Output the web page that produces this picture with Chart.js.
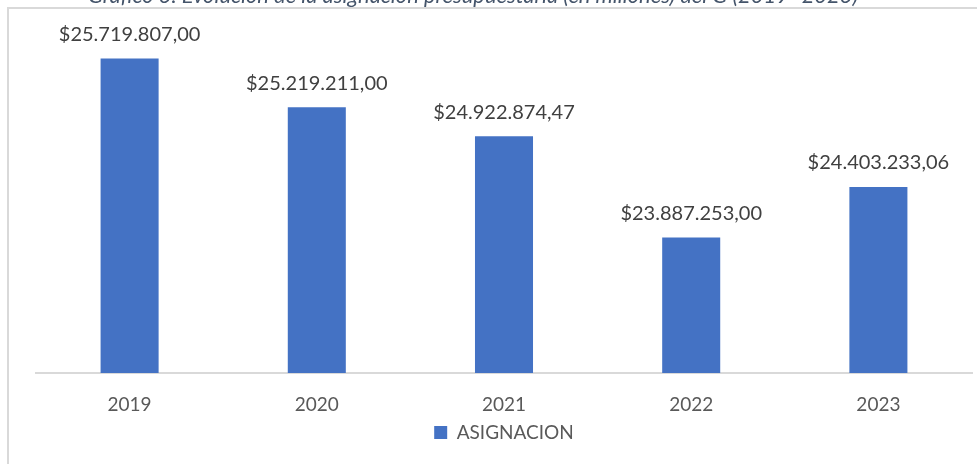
<!DOCTYPE html>
<html>
<head>
<meta charset="utf-8">
<script src="https://cdn.jsdelivr.net/npm/chart.js@4.4.1/dist/chart.umd.min.js"></script>
<style>
  html, body { margin: 0; padding: 0; background: #fff; }
  #wrap { width: 977px; height: 464px; }
</style>
</head>
<body>
<div id="wrap"><canvas id="budgetChart" width="977" height="464"></canvas></div>
<script>
// Data
const years = ['2019', '2020', '2021', '2022', '2023'];
const asignacion = [25719807.00, 25219211.00, 24922874.47, 23887253.00, 24403233.06];
const seriesName = 'ASIGNACION';
const chartTitle = 'Gráfico 3. Evolución de la asignación presupuestaria (en millones) del G (2019- 2023)';

// Spanish style money: $25.719.807,00
function formatMoney(v) {
    const parts = v.toFixed(2).split('.');
    const intPart = parts[0].replace(/\B(?=(\d{3})+(?!\d))/g, '.');
    return '$' + intPart + ',' + parts[1];
}

// White background, thin frame and the (cut off) caption above it
const framePlugin = {
    id: 'frame',
    beforeDraw(chart) {
        const ctx = chart.ctx;
        ctx.save();
        ctx.fillStyle = '#ffffff';
        ctx.fillRect(0, 0, chart.width, chart.height);
        ctx.strokeStyle = '#d9d9d9';
        ctx.lineWidth = 2;
        ctx.beginPath();
        ctx.moveTo(8, chart.height);
        ctx.lineTo(8, 8);
        ctx.lineTo(chart.width, 8);
        ctx.stroke();

        ctx.fillStyle = '#44546A';
        ctx.font = 'italic 17px Lato';
        const w = ctx.measureText(chartTitle).width;
        const size = 17 * 772 / w;
        ctx.font = 'italic ' + size.toFixed(1) + 'px Lato';
        ctx.textAlign = 'left';
        ctx.textBaseline = 'alphabetic';
        ctx.fillText(chartTitle, 88, 3);
        ctx.restore();
    }
};

// Value labels above the bars
const valueLabels = {
    id: 'valueLabels',
    afterDatasetsDraw(chart) {
        const ctx = chart.ctx;
        const meta = chart.getDatasetMeta(0);
        ctx.save();
        ctx.font = '20px Lato';
        ctx.fillStyle = '#404040';
        ctx.textAlign = 'center';
        ctx.textBaseline = 'middle';
        meta.data.forEach(function(bar, i) {
            ctx.fillText(formatMoney(asignacion[i]), bar.x, bar.y - 24);
        });
        ctx.restore();
    }
};

new Chart(document.getElementById('budgetChart').getContext('2d'), {
    type: 'bar',
    data: {
        labels: years,
        datasets: [{
            label: seriesName,
            data: asignacion,
            backgroundColor: '#4472C4',
            borderWidth: 0,
            barPercentage: 0.31,
            categoryPercentage: 1.0
        }]
    },
    options: {
        responsive: false,
        animation: false,
        layout: {
            padding: { left: 36, right: 5, top: 31, bottom: 12 }
        },
        scales: {
            x: {
                grid: { display: false, drawTicks: false },
                border: { display: true, color: '#d9d9d9', width: 2 },
                ticks: {
                    padding: 20,
                    color: '#595959',
                    font: { family: 'Lato', size: 19 }
                },
                afterFit(scale) {
                    scale.height = 50;
                }
            },
            y: {
                display: false,
                min: 22500000,
                max: 26000000
            }
        },
        plugins: {
            legend: {
                position: 'bottom',
                labels: {
                    boxWidth: 13,
                    boxHeight: 13,
                    padding: 0,
                    color: '#595959',
                    font: { family: 'Lato', size: 19 }
                }
            },
            tooltip: { enabled: false }
        }
    },
    plugins: [framePlugin, valueLabels]
});
</script>
</body>
</html>
